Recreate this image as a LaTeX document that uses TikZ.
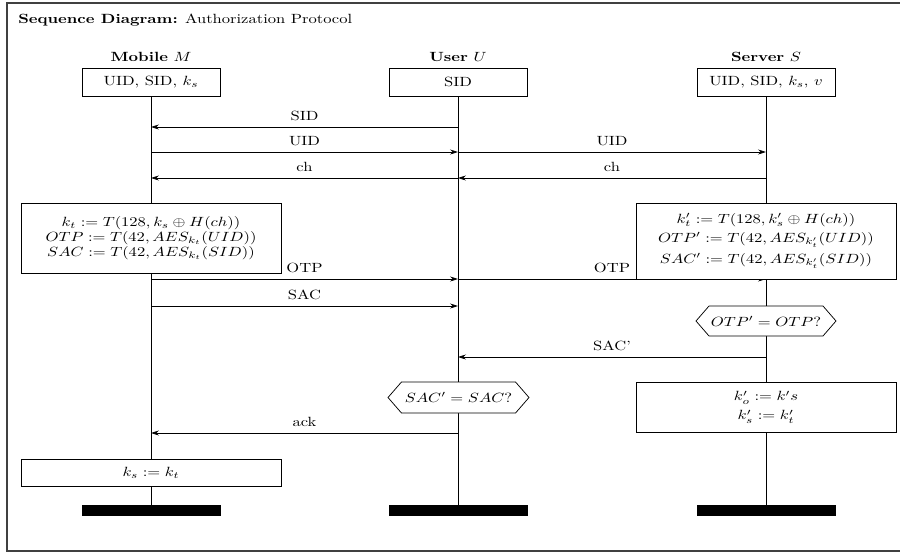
\documentclass[tikz,border=0pt]{standalone}
\usetikzlibrary{arrows.meta,shapes.symbols}
\begin{document}
\begin{tikzpicture}[x=0.75pt,y=-0.75pt,
  font=\fontsize{10}{11.25}\selectfont,
  every node/.style={inner sep=0pt},
  tx/.style={xscale=1.24,transform shape},
  hdr/.style={tx,draw,line width=0.55pt,fill=white,minimum width=83.47pt,minimum height=21pt},
  calc/.style={tx,draw,line width=0.55pt,fill=white,align=center,minimum width=157.26pt},
  bar/.style={fill=black,minimum width=104.25pt,minimum height=8.25pt},
  life/.style={line width=0.6pt},
  msg/.style={line width=0.6pt,-{Stealth[length=6pt,width=3.8pt,inset=2pt]}},
  lbl/.style={tx,midway,anchor=base,yshift=5pt},
  cond/.style={tx,draw,line width=0.55pt,fill=white,signal,signal to=west and east,signal pointer angle=110}
]
\clip (0,0) rectangle (900,554);
\draw[line width=1.1pt,black!75] (7,3) rectangle (905,551);
\node[tx,anchor=base west] (title) at (18,23) {\textbf{Sequence Diagram:} Authorization Protocol};
% headers
\node[tx,anchor=base] (nM) at (151,61) {\textbf{Mobile} $M$};
\node[tx,anchor=base] (nU) at (458,61) {\textbf{User} $U$};
\node[tx,anchor=base] (nS) at (766,61) {\textbf{Server} $S$};
\node[hdr] (bM) at (151,82) {UID, SID, $k_s$};
\node[hdr] (bU) at (458,82) {SID};
\node[hdr] (bS) at (766,82) {UID, SID, $k_s$, $v$};
\node[bar] (eM) at (151,510.5) {};
\node[bar] (eU) at (458,510.5) {};
\node[bar] (eS) at (766,510.5) {};
\draw[life] (bM.south) -- (eM.north);
\draw[life] (bU.south) -- (eU.north);
\draw[life] (bS.south) -- (eS.north);
% message end points
\foreach \n/\y in {1/127,2/152,3/178,4/279,5/306,6/357,7/433}{
  \coordinate (M\n) at (151,\y);
  \coordinate (U\n) at (458,\y);
  \coordinate (S\n) at (766,\y);
}
\draw[msg] (U1) -- node[lbl] {SID} (M1);
\draw[msg] (M2) -- node[lbl] {UID} (U2);
\draw[msg] (U2) -- node[lbl] {UID} (S2);
\draw[msg] (S3) -- node[lbl] {ch} (U3);
\draw[msg] (U3) -- node[lbl] {ch} (M3);
% computations
\node[calc,minimum height=52.5pt] (cM) at (151,238) {$k_t := T(128, k_s \oplus H(ch))$\\ $OTP := T(42, AES_{k_t}(UID))$\\ $SAC := T(42, AES_{k_t}(SID))$};
\draw[msg] (M4) -- node[lbl] {OTP} (U4);
\draw[msg] (U4) -- node[lbl] {OTP} (S4);
\node[calc,minimum height=57pt] (cS) at (766,241) {$k'_t := T(128, k'_s \oplus H(ch))$\\[3pt] $OTP' := T(42, AES_{k'_t}(UID))$\\[3pt] $SAC' := T(42, AES_{k'_t}(SID))$};
\draw[msg] (M5) -- node[lbl] {SAC} (U5);
\node[cond,minimum width=84.68pt,minimum height=22.5pt] (q1) at (766,321) {$OTP' = OTP?$};
\draw[msg] (S6) -- node[lbl] {SAC'} (U6);
\node[cond,minimum width=85.28pt,minimum height=23.25pt] (q2) at (458.5,397.5) {$SAC' = SAC?$};
\node[calc,minimum height=37.5pt] (uS) at (766,407) {$k'_o := k's$\\[3pt] $k'_s := k'_t$};
\draw[msg] (U7) -- node[lbl] {ack} (M7);
\node[calc,minimum height=20.25pt] (uM) at (151,472.5) {$k_s := k_t$};
\end{tikzpicture}
\end{document}
